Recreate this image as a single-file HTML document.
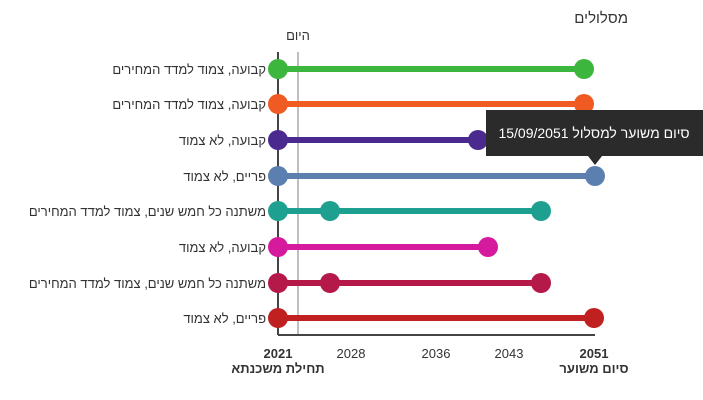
<!DOCTYPE html><html><head><meta charset="utf-8"><style>body{margin:0;background:#fff}svg{display:block}text{font-family:"Liberation Sans","Noto Sans CJK SC",sans-serif}</style></head><body>
<svg width="703" height="400" viewBox="0 0 703 400">
<text x="628" y="23" font-size="15" fill="#333" text-anchor="end">מסלולים</text>
<text x="298" y="40" font-size="13" fill="#333" text-anchor="middle">היום</text>
<line x1="298" y1="52" x2="298" y2="335" stroke="#aaa" stroke-width="1.5"/>
<line x1="278" y1="52" x2="278" y2="335" stroke="#444" stroke-width="2"/>
<line x1="278" y1="335" x2="595" y2="335" stroke="#444" stroke-width="2"/>
<g font-size="13" fill="#333" text-anchor="end">
<text x="266" y="74">קבועה, צמוד למדד המחירים</text>
<text x="266" y="109">קבועה, צמוד למדד המחירים</text>
<text x="266" y="145">קבועה, לא צמוד</text>
<text x="266" y="181">פריים, לא צמוד</text>
<text x="266" y="216">משתנה כל חמש שנים, צמוד למדד המחירים</text>
<text x="266" y="252">קבועה, לא צמוד</text>
<text x="266" y="288">משתנה כל חמש שנים, צמוד למדד המחירים</text>
<text x="266" y="323">פריים, לא צמוד</text>
</g>
<g stroke-width="6">
<line x1="278" y1="69" x2="584" y2="69" stroke="#3cb63c"/>
<line x1="278" y1="104" x2="584" y2="104" stroke="#f05a23"/>
<line x1="278" y1="140" x2="478" y2="140" stroke="#4a2a8f"/>
<line x1="278" y1="176" x2="595" y2="176" stroke="#5b80b0"/>
<line x1="278" y1="211" x2="541" y2="211" stroke="#1ea091"/>
<line x1="278" y1="247" x2="488" y2="247" stroke="#d61a9e"/>
<line x1="278" y1="283" x2="541" y2="283" stroke="#b5194a"/>
<line x1="278" y1="318" x2="594" y2="318" stroke="#c0201f"/>
</g>
<g>
<circle cx="278" cy="69" r="10" fill="#3cb63c"/><circle cx="584" cy="69" r="10" fill="#3cb63c"/>
<circle cx="278" cy="104" r="10" fill="#f05a23"/><circle cx="584" cy="104" r="10" fill="#f05a23"/>
<circle cx="278" cy="140" r="10" fill="#4a2a8f"/><circle cx="478" cy="140" r="10" fill="#4a2a8f"/>
<circle cx="278" cy="176" r="10" fill="#5b80b0"/><circle cx="595" cy="176" r="10" fill="#5b80b0"/>
<circle cx="278" cy="211" r="10" fill="#1ea091"/><circle cx="330" cy="211" r="10" fill="#1ea091"/><circle cx="541" cy="211" r="10" fill="#1ea091"/>
<circle cx="278" cy="247" r="10" fill="#d61a9e"/><circle cx="488" cy="247" r="10" fill="#d61a9e"/>
<circle cx="278" cy="283" r="10" fill="#b5194a"/><circle cx="330" cy="283" r="10" fill="#b5194a"/><circle cx="541" cy="283" r="10" fill="#b5194a"/>
<circle cx="278" cy="318" r="10" fill="#c0201f"/><circle cx="594" cy="318" r="10" fill="#c0201f"/>
</g>
<g font-size="13" fill="#333" text-anchor="middle">
<text x="278" y="358" font-weight="bold">2021</text>
<text x="278" y="373" font-weight="bold">תחילת משכנתא</text>
<text x="351" y="358">2028</text>
<text x="436" y="358">2036</text>
<text x="509" y="358">2043</text>
<text x="594" y="358" font-weight="bold">2051</text>
<text x="594" y="373" font-weight="bold">סיום משוער</text>
</g>
<polygon points="486,110 703,110 703,156 602,156 595,165 588,156 486,156" fill="#2b2b2b"/>
<text x="594" y="138" font-size="14" fill="#fff" text-anchor="middle">סיום משוער למסלול 15/09/2051</text>
</svg></body></html>
